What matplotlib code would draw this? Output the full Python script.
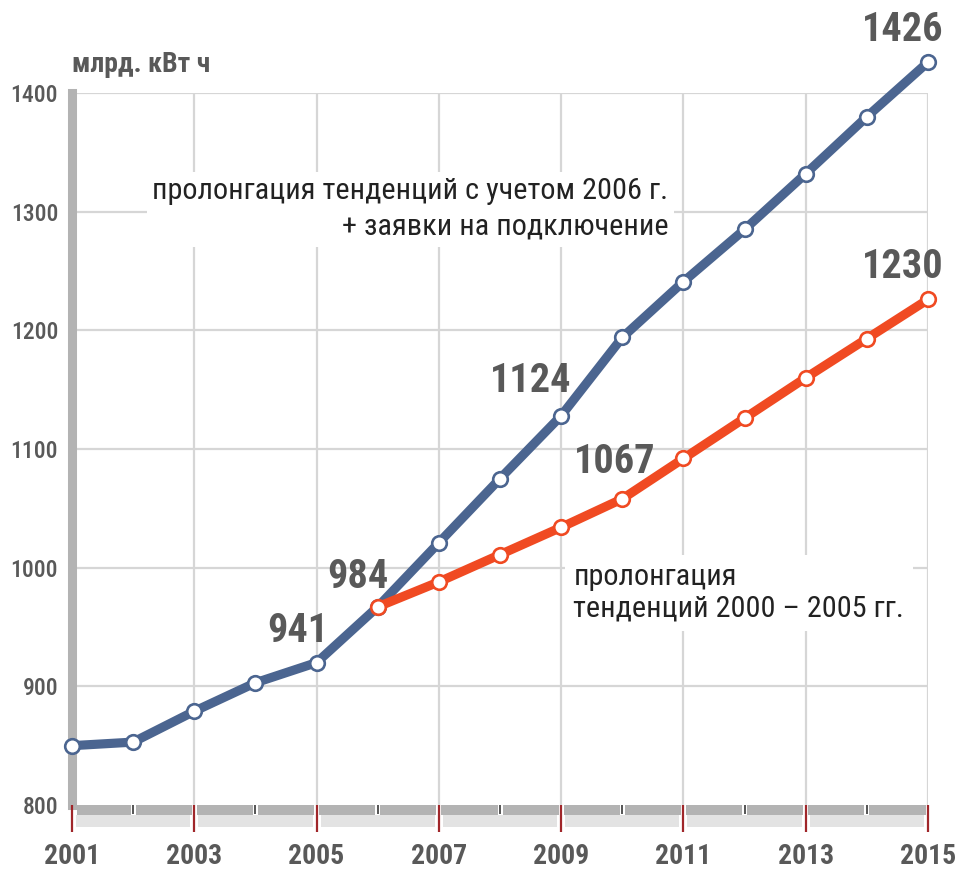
import matplotlib
matplotlib.use("Agg")
import matplotlib.pyplot as plt
from matplotlib.patches import Rectangle
import matplotlib.transforms as mtransforms

plt.rcParams['font.family'] = ['Roboto Condensed', 'DejaVu Sans']

# ---- data ----
years_blue = [2001, 2002, 2003, 2004, 2005, 2006, 2007, 2008, 2009, 2010, 2011, 2012, 2013, 2014, 2015]
values_blue = [850, 853, 879, 903, 920, 967, 1021, 1075, 1128, 1194, 1241, 1285, 1332, 1380, 1426]
years_red = [2006, 2007, 2008, 2009, 2010, 2011, 2012, 2013, 2014, 2015]
values_red = [967, 988, 1011, 1034, 1058, 1092, 1126, 1160, 1193, 1226]
year_ticks = [2001, 2003, 2005, 2007, 2009, 2011, 2013, 2015]
y_ticks = [800, 900, 1000, 1100, 1200, 1300, 1400]
unit_label = "млрд. кВт ч"
blue_note = "пролонгация тенденций с учетом 2006 г.\n+ заявки на подключение"
red_note = "пролонгация\nтенденций 2000 – 2005 гг."
# value labels: (series, year, text, offset in pixels)
value_labels = [
    ("blue", 2005, "941", (-19, 32)),
    ("blue", 2006, "984", (-20, 30)),
    ("blue", 2009, "1124", (-30, 35)),
    ("red", 2010, "1067", (-8, 37)),
    ("red", 2015, "1230", (-25, 32)),
    ("blue", 2015, "1426", (-25, 32)),
]

BLUE = "#4b6590"
RED = "#f04a22"
TXT = "#595959"
GRID = "#d6d6d6"

W, H = 960, 869
fig = plt.figure(figsize=(W / 100, H / 100), dpi=100)
x0, x1 = 72, 928
ytop, ybot = 93, 805
ax = fig.add_axes([x0 / W, (H - ybot) / H, (x1 - x0) / W, (ybot - ytop) / H])
ax.set_xlim(2001, 2015)
ax.set_ylim(800, 1400)

# grid
for y in y_ticks[1:]:
    ax.axhline(y, color=GRID, lw=1.6, zorder=0)
for x in year_ticks[1:]:
    ax.axvline(x, color=GRID, lw=1.6, zorder=0)

for s in ['top', 'right', 'bottom']:
    ax.spines[s].set_visible(False)
ax.spines['left'].set_color("#b3b3b3")
ax.spines['left'].set_linewidth(6.5)
ax.spines['left'].set_zorder(1)

# bottom bar
trans = mtransforms.blended_transform_factory(ax.transData, ax.transAxes)
axh = ybot - ytop
px = 1.0 / ((x1 - x0) / 14)
g = 2.5 * px
for yr in range(2001, 2015):
    left = yr + (5 * px if yr == 2001 else g)
    ax.add_patch(Rectangle((left, -10 / axh), yr + 1 - g - left, 10 / axh,
                           transform=trans, color="#b3b3b3", clip_on=False, lw=0, zorder=2))
for yr in range(2001, 2015, 2):
    left = yr + 4 * px
    ax.add_patch(Rectangle((left, -22 / axh), 2 - 8 * px, 12 / axh,
                           transform=trans, color="#e3e3e3", clip_on=False, lw=0, zorder=2))

ax.set_xticks(year_ticks)
ax.set_xticklabels([str(y) for y in year_ticks])
ax.set_xticks([y for y in range(2002, 2015, 2)], minor=True)
ax.tick_params(axis='x', which='major', direction='out', length=19.5, width=1.6,
               color="#a0262a", pad=8, labelsize=20, labelcolor=TXT)
ax.tick_params(axis='x', which='minor', direction='out', length=6.5, width=1.4, color="#555555")
for t in ax.get_xticklabels():
    t.set_fontweight('bold')
ax.set_yticks(y_ticks)
ax.set_yticklabels([str(y) for y in y_ticks])
ax.tick_params(axis='y', length=0, pad=10, labelsize=17, labelcolor=TXT)
for t in ax.get_yticklabels():
    t.set_fontweight('medium')

# lines
ax.plot(years_blue, values_blue, color=BLUE, lw=6.6, marker='o', ms=10.5,
        mfc='white', mec=BLUE, mew=1.9, zorder=4, clip_on=False, solid_joinstyle='round')
ax.plot(years_red, values_red, color=RED, lw=6.6, marker='o', ms=10.5,
        mfc='white', mec=RED, mew=1.9, zorder=5, clip_on=False, solid_joinstyle='round')

series = {"blue": dict(zip(years_blue, values_blue)), "red": dict(zip(years_red, values_red))}
for s, yr, txt, off in value_labels:
    ax.annotate(txt, (yr, series[s][yr]), xytext=off, textcoords='offset pixels',
                ha='center', va='center', fontsize=29, fontweight='bold', color=TXT,
                annotation_clip=False, zorder=6)

fig.text(72 / W, 1 - 65 / H, unit_label, ha='left', va='center', fontsize=20,
         fontweight='bold', color=TXT)
ax.text(2010.75, 1302, blue_note, ha='right', va='center', fontsize=21.8, color="#222222",
        linespacing=1.36, zorder=6,
        bbox=dict(facecolor='white', edgecolor='none', pad=4))
ax.text(2009.2, 979, red_note, ha='left', va='center', fontsize=21.8, color="#222222",
        linespacing=1.14, zorder=6,
        bbox=dict(facecolor='white', edgecolor='none', pad=6))

fig.savefig("out.png", dpi=100)
